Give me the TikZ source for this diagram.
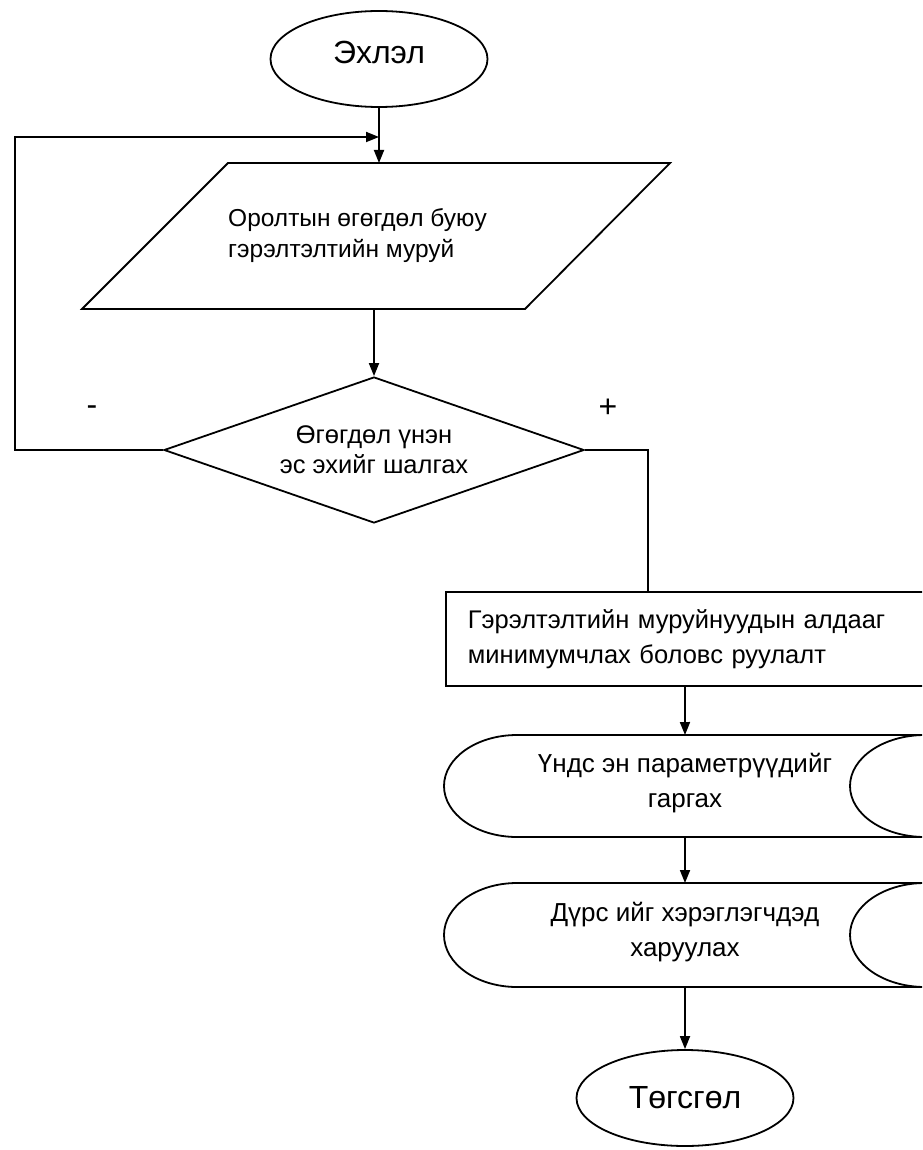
\documentclass[tikz,border=0pt]{standalone}
\usepackage{fontspec}
\setmainfont{Liberation Sans}
\usetikzlibrary{shapes.geometric,arrows.meta}
\begin{document}
\begin{tikzpicture}[x=1pt,y=-1pt,
  line/.style={line width=1.8pt, draw=black},
  arr/.style={line, -{Triangle[length=13pt,width=10pt]}},
  term/.style={ellipse, line, minimum width=217pt, minimum height=96pt, inner sep=0pt, font=\fontsize{32}{36}\selectfont},
  body/.style={font=\fontsize{26}{35}\selectfont},
  signlbl/.style={font=\fontsize{32}{36}\selectfont, inner sep=0pt}
]
\useasboundingbox (0,0) rectangle (922,1150);
\clip (0,0) rectangle (922,1150);
\fill[white] (0,0) rectangle (922,1150);

% start
\node[term] (s) at (379,59) {\raisebox{14pt}{Эхлэл}};

% input parallelogram
\draw[line] (228,163) -- (670,163) -- (525,309) -- (82,309) -- cycle;
\node[align=left, inner sep=0pt, anchor=west, font=\fontsize{24.5}{31}\selectfont] (in) at (228,236) {Оролтын өгөгдөл буюу\\гэрэлтэлтийн муруй};
\coordinate (pin) at (379,163);
\coordinate (pout) at (374,309);

% decision
\node[diamond, line, minimum width=420pt, minimum height=146pt, aspect=2.88, inner sep=0pt, align=center, font=\fontsize{25.5}{30}\selectfont] (d) at (374,450) {Өгөгдөл үнэн\\эс эхийг шалгах};

\node[signlbl] (minus) at (92,411) {-};
\node[signlbl] (plus) at (608,408) {+};

% process rectangle
\node[line, anchor=north west, minimum width=478pt, minimum height=94pt, text width=434pt, inner xsep=22pt, align=left, font=\fontsize{25.5}{35}\selectfont] (r) at (445,591) {Гэрэлтэлтийн муруйнуудын алдааг\\минимумчлах боловс руулалт};

% stored-data shapes
\node[minimum width=480pt, minimum height=102pt, align=center, body] (g1) at (685,783) {Үндс эн параметрүүдийг\\гаргах};
\draw[line] (517,735) -- (925,735) arc[start angle=90, end angle=270, x radius=75pt, y radius=51pt] -- (517,837) arc[start angle=270, end angle=90, x radius=73pt, y radius=51pt] -- cycle;

\node[minimum width=480pt, minimum height=104pt, align=center, body] (g2) at (685,932) {Дүрс ийг хэрэглэгчдэд\\харуулах};
\draw[line] (517,883) -- (925,883) arc[start angle=90, end angle=270, x radius=75pt, y radius=52pt] -- (517,987) arc[start angle=270, end angle=90, x radius=73pt, y radius=52pt] -- cycle;

% end
\node[term] (e) at (685,1098) {Төгсгөл};

% connectors
\coordinate (lc) at (15,450);
\coordinate (join) at (379,137);
\coordinate (rt) at (648,592);
\coordinate (g1top) at (685,735);
\coordinate (g1bot) at (685,837);
\coordinate (g2top) at (685,883);
\coordinate (g2bot) at (685,987);
\draw[arr] (s.south) -- (pin);
\draw[arr] (pout) -- (d.north);
\draw[arr] (d.west) -- (lc) |- (join);
\draw[line] (d.east) -| (rt);
\draw[arr] (r.south) -- (g1top);
\draw[arr] (g1bot) -- (g2top);
\draw[arr] (g2bot) -- (e.north);
\end{tikzpicture}
\end{document}
